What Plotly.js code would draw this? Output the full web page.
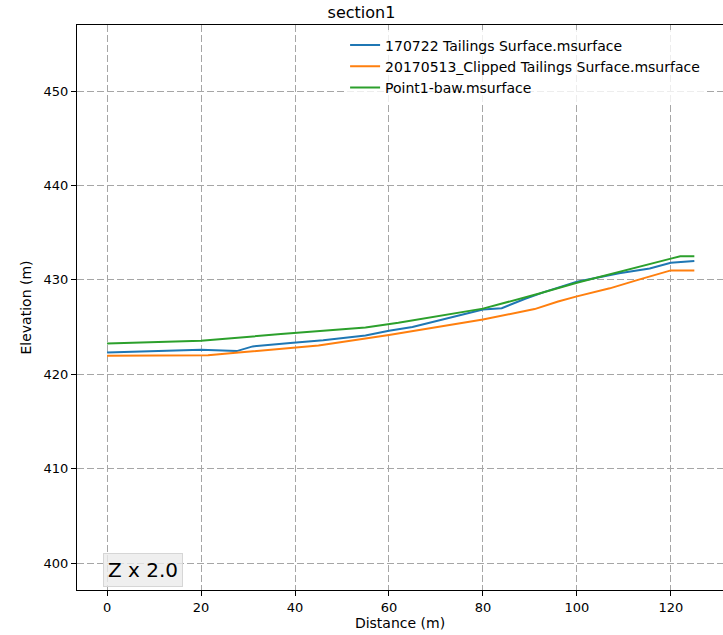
<!DOCTYPE html>
<html>
<head>
<meta charset="utf-8">
<script src="https://cdn.plot.ly/plotly-3.0.1.min.js"></script>
<style>html,body{margin:0;padding:0;background:#fff;}#chart{width:723px;height:635px;}</style>
</head>
<body>
<div id="chart"></div>
<script>
// Series names
const seriesNames = ["170722 Tailings Surface.msurface", "20170513_Clipped Tailings Surface.msurface", "Point1-baw.msurface"];

// 170722 Tailings Surface
const dist1 = [0, 20, 27.6, 31, 39, 46, 55, 60, 65, 70, 76, 80, 84, 89, 93, 96, 100, 109, 115.5, 120, 125];
const elev1 = [422.3, 422.6, 422.45, 422.95, 423.3, 423.6, 424.1, 424.6, 425.0, 425.6, 426.4, 426.85, 427.0, 428.0, 428.7, 429.2, 429.8, 430.7, 431.2, 431.8, 432.0];

// 20170513_Clipped Tailings Surface
const dist2 = [0, 21.5, 28, 40, 45, 60, 80, 91, 96, 100, 107, 113, 120, 125];
const elev2 = [421.95, 422.0, 422.3, 422.8, 423.05, 424.15, 425.8, 426.9, 427.7, 428.25, 429.1, 430.0, 431.0, 431.0];

// Point1-baw
const dist3 = [0, 20, 37, 55, 62, 80, 92, 100, 120, 122, 125];
const elev3 = [423.25, 423.55, 424.25, 424.95, 425.45, 426.95, 428.55, 429.7, 432.25, 432.5, 432.5];

const xTicks = [0, 20, 40, 60, 80, 100, 120];
const yTicks = [400, 410, 420, 430, 440, 450];

const colors = ["#1f77b4", "#ff7f0e", "#2ca02c"];
const FONT = "DejaVu Sans, sans-serif";

const traces = [
  {x: dist1, y: elev1, name: seriesNames[0], mode: "lines", line: {color: colors[0], width: 2}},
  {x: dist2, y: elev2, name: seriesNames[1], mode: "lines", line: {color: colors[1], width: 2}},
  {x: dist3, y: elev3, name: seriesNames[2], mode: "lines", line: {color: colors[2], width: 2}}
];

const axisCommon = {
  showline: true, linecolor: "#000", linewidth: 1,
  ticks: "outside", ticklen: 5, tickcolor: "#000", tickwidth: 1,
  showgrid: true, gridcolor: "#a6a6a6", gridwidth: 1, griddash: "7px,3px",
  zeroline: false,
  tickfont: {family: FONT, size: 13, color: "#000"}
};

const layout = {
  width: 723, height: 635,
  margin: {l: 77, r: 0, t: 25, b: 45},
  paper_bgcolor: "#fff", plot_bgcolor: "#fff",
  font: {family: FONT, color: "#000"},
  title: {text: "section1", font: {family: FONT, size: 16, color: "#000"}, x: 0.5, xanchor: "center", y: 0.98, yanchor: "middle", yref: "container"},
  xaxis: Object.assign({}, axisCommon, {
    range: [-6.4, 131.1], tickvals: xTicks, ticktext: xTicks.map(String), mirror: true,
    title: {text: "Distance (m)", font: {family: FONT, size: 14, color: "#000"}, standoff: 4}
  }),
  yaxis: Object.assign({}, axisCommon, {
    range: [397.14, 457.0], tickvals: yTicks, ticktext: yTicks.map(String),
    title: {text: "Elevation (m)", font: {family: FONT, size: 14, color: "#000"}, standoff: 8}
  }),
  showlegend: true,
  legend: {
    x: 0.415, xanchor: "left", y: 0.992, yanchor: "top",
    bgcolor: "rgba(255,255,255,0.8)", borderwidth: 0,
    font: {family: FONT, size: 14, color: "#000"},
    tracegroupgap: 0
  },
  annotations: [{
    text: "Z x 2.0", xref: "paper", yref: "paper", x: 0.04, y: 0.005,
    xanchor: "left", yanchor: "bottom", showarrow: false,
    font: {family: FONT, size: 20, color: "#000"},
    bgcolor: "rgba(235,235,235,0.8)", bordercolor: "#d6d6d6", borderwidth: 1, borderpad: 4
  }]
};

Plotly.newPlot("chart", traces, layout, {displayModeBar: false, staticPlot: true});
</script>
</body>
</html>
